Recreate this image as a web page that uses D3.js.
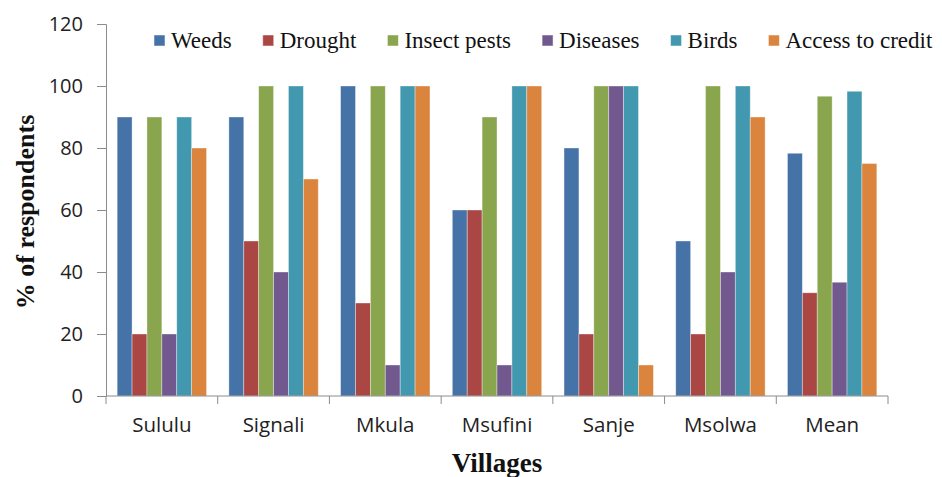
<!DOCTYPE html>
<html lang="en">
<head>
    <meta charset="UTF-8">
    <title>Constraints per village</title>
    <script src="https://cdn.jsdelivr.net/npm/d3@7/dist/d3.min.js"></script>
    <style>
        body { margin: 0; background: #fff; }
    </style>
</head>
<body>
<script>
    // villages on the x axis
    var villages = ["Sululu", "Signali", "Mkula", "Msufini", "Sanje", "Msolwa", "Mean"];
    // constraint series (legend order)
    var series = ["Weeds", "Drought", "Insect pests", "Diseases", "Birds", "Access to credit"];
    var colors = ["#4572A7", "#AA4643", "#89A54E", "#71588F", "#4198AF", "#DB843D"];

    // % of respondents, one array per series, same order as villages
    var weeds    = [90, 90, 100, 60, 80, 50, 78.3];
    var drought  = [20, 50, 30, 60, 20, 20, 33.3];
    var insects  = [90, 100, 100, 90, 100, 100, 96.7];
    var diseases = [20, 40, 10, 10, 100, 40, 36.7];
    var birds    = [90, 100, 100, 100, 100, 100, 98.3];
    var credit   = [80, 70, 100, 100, 10, 90, 75];
    var yTicks = [0, 20, 40, 60, 80, 100, 120];

    var values = [weeds, drought, insects, diseases, birds, credit];

    var width = 942, height = 477;
    var padding = {top: 24, bottom: 81, left: 106, right: 54};

    var svg = d3.select("body").append("svg")
        .attr("width", width)
        .attr("height", height);

    var scaleX = d3.scaleBand()
        .domain(villages)
        .range([padding.left, width - padding.right])
        .padding(0);

    // bars inside one village group
    var scaleInner = d3.scaleBand()
        .domain(series)
        .range([0, scaleX.bandwidth()])
        .paddingInner(0)
        .paddingOuter(0.75);

    var scaleY = d3.scaleLinear()
        .domain([0, 120])
        .range([height - padding.bottom, padding.top]);

    //画柱子
    var rows = [];
    villages.forEach(function (v, i) {
        series.forEach(function (s, j) {
            rows.push({village: v, serie: s, idx: j, value: values[j][i]});
        });
    });

    svg.append("g").selectAll("rect")
        .data(rows)
        .enter()
        .append("rect")
        .attr("x", function (d) { return scaleX(d.village) + scaleInner(d.serie); })
        .attr("y", function (d) { return scaleY(d.value); })
        .attr("width", scaleInner.bandwidth())
        .attr("height", function (d) { return scaleY(0) - scaleY(d.value); })
        .attr("fill", function (d) { return colors[d.idx]; })
        .attr("stroke", "#ffffff")
        .attr("stroke-opacity", 0.45)
        .attr("stroke-width", 0.8);

    //坐标轴
    var axisColor = "#8c8c8c";
    var tickFont = "'Open Sans', Lato, sans-serif";
    var axisY = d3.axisLeft(scaleY).tickValues(yTicks).tickSize(9).tickPadding(14);
    var gy = svg.append("g")
        .attr("transform", "translate(" + padding.left + ",0)")
        .call(axisY);
    gy.select(".domain").attr("stroke", axisColor);
    gy.selectAll(".tick line").attr("stroke", axisColor);
    gy.selectAll(".tick text")
        .attr("font-family", tickFont)
        .attr("font-size", "20px")
        .attr("fill", "#222");

    var axisX = d3.axisBottom(scaleX).tickSize(0).tickPadding(21);
    var gx = svg.append("g")
        .attr("transform", "translate(0," + scaleY(0) + ")")
        .call(axisX);
    gx.select(".domain").attr("stroke", axisColor).attr("d", "M" + padding.left + ",0H" + (width - padding.right));
    gx.selectAll(".tick text")
        .attr("font-family", tickFont)
        .attr("font-size", "20.5px")
        .attr("fill", "#222");

    // group boundary ticks
    var bounds = villages.map(function (v) { return scaleX(v); }).concat([scaleX.range()[1]]);
    gx.selectAll(".bound")
        .data(bounds)
        .enter()
        .append("line")
        .attr("x1", function (d) { return d; })
        .attr("x2", function (d) { return d; })
        .attr("y1", 0)
        .attr("y2", 8)
        .attr("stroke", axisColor);

    //轴标题
    svg.append("text")
        .attr("transform", "translate(34," + ((padding.top + scaleY(0)) / 2 + 2) + ") rotate(-90)")
        .attr("text-anchor", "middle")
        .attr("font-family", "'Liberation Serif', 'Times New Roman', serif")
        .attr("font-weight", "bold")
        .attr("font-size", "26px")
        .attr("fill", "#111")
        .text("% of respondents");

    svg.append("text")
        .attr("x", (padding.left + width - padding.right) / 2)
        .attr("y", 472)
        .attr("text-anchor", "middle")
        .attr("font-family", "'Liberation Serif', 'Times New Roman', serif")
        .attr("font-weight", "bold")
        .attr("font-size", "27px")
        .attr("fill", "#111")
        .text("Villages");

    //图例
    var legend = svg.append("g");
    var lx = 154;
    series.forEach(function (s, j) {
        legend.append("rect")
            .attr("x", lx)
            .attr("y", 35)
            .attr("width", 11)
            .attr("height", 11)
            .attr("fill", colors[j])
            .attr("stroke", "#ffffff")
            .attr("stroke-opacity", 0.5);
        var t = legend.append("text")
            .attr("x", lx + 17)
            .attr("y", 48)
            .attr("font-family", "'Liberation Serif', 'Times New Roman', serif")
            .attr("font-size", "23px")
            .attr("fill", "#111")
            .text(s);
        lx = lx + 17 + t.node().getComputedTextLength() + 31;
    });
</script>
</body>
</html>
